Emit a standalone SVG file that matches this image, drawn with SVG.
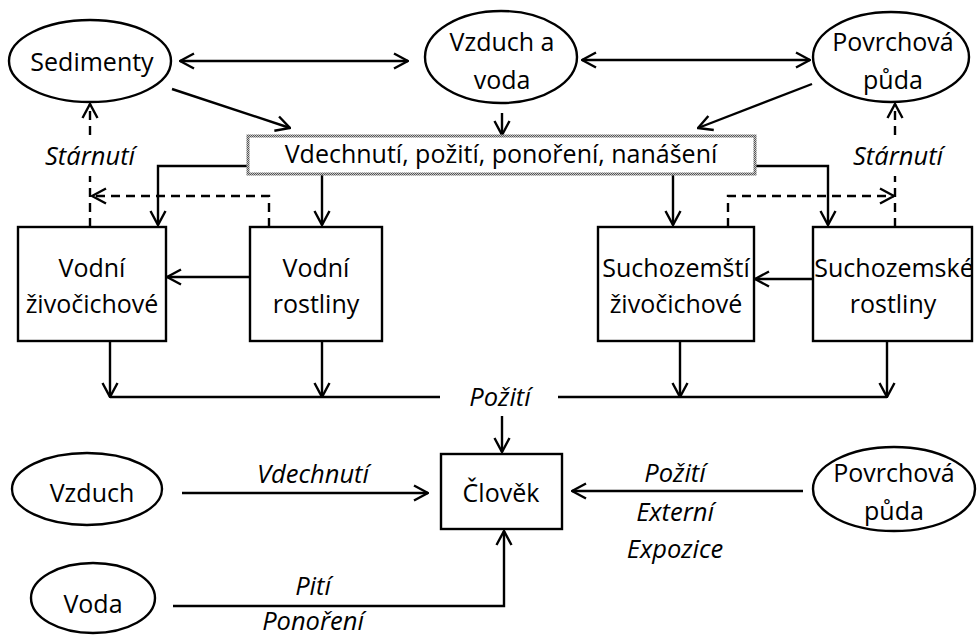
<svg xmlns="http://www.w3.org/2000/svg" width="977" height="637" viewBox="0 0 977 637">
  <defs>
    <marker id="arr" viewBox="0 0 16 18" refX="15" refY="9" markerWidth="16" markerHeight="18" markerUnits="userSpaceOnUse" orient="auto-start-reverse">
      <path d="M1,1.5 L15,9 L1,16.5" fill="none" stroke="#000" stroke-width="2.4"/>
    </marker>
    <pattern id="hatch" width="2" height="2" patternUnits="userSpaceOnUse">
      <rect width="2" height="2" fill="#c8c8c8"/>
      <rect width="1" height="1" fill="#555"/>
      <rect x="1" y="1" width="1" height="1" fill="#555"/>
    </pattern>
    <style>
      .n { fill: #fff; stroke: #000; stroke-width: 2.4; }
      .t { font-family: "Open Sans", "Liberation Sans", sans-serif; font-size: 25px; fill: #000; text-anchor: middle; }
      .i { font-style: italic; font-size: 25.5px; }
      .c { fill: none; stroke: #000; stroke-width: 2.4; }
      .d { stroke-dasharray: 9 6; }
    </style>
  </defs>

  <!-- connectors -->
  <g id="connectors">
    <line class="c" x1="180" y1="61" x2="408" y2="61" marker-start="url(#arr)" marker-end="url(#arr)"/>
    <line class="c" x1="582" y1="60" x2="810" y2="60" marker-start="url(#arr)" marker-end="url(#arr)"/>
    <line class="c" x1="172" y1="89" x2="290" y2="128" marker-end="url(#arr)"/>
    <line class="c" x1="502" y1="113" x2="502" y2="135" marker-end="url(#arr)"/>
    <line class="c" x1="812" y1="84" x2="698" y2="128" marker-end="url(#arr)"/>

    <polyline class="c" points="248,166 158,166 158,225" marker-end="url(#arr)"/>
    <line class="c" x1="322" y1="174" x2="322" y2="225" marker-end="url(#arr)"/>
    <line class="c" x1="673" y1="174" x2="673" y2="225" marker-end="url(#arr)"/>
    <polyline class="c" points="755,166 828,166 828,225" marker-end="url(#arr)"/>

    <polyline class="c d" points="269,227 269,196 92,196" marker-end="url(#arr)"/>
    <line class="c d" x1="90" y1="227" x2="90" y2="176"/>
    <line class="c d" x1="90" y1="135" x2="90" y2="104" marker-end="url(#arr)"/>
    <polyline class="c d" points="728,227 728,196 894,196" marker-end="url(#arr)"/>
    <line class="c d" x1="895" y1="227" x2="895" y2="176"/>
    <line class="c d" x1="895" y1="135" x2="895" y2="104" marker-end="url(#arr)"/>

    <line class="c" x1="250" y1="277" x2="167" y2="277" marker-end="url(#arr)"/>
    <line class="c" x1="813" y1="279" x2="755" y2="279" marker-end="url(#arr)"/>

    <line class="c" x1="110" y1="341" x2="110" y2="397" marker-end="url(#arr)"/>
    <line class="c" x1="322" y1="341" x2="322" y2="397" marker-end="url(#arr)"/>
    <line class="c" x1="680" y1="341" x2="680" y2="397" marker-end="url(#arr)"/>
    <line class="c" x1="887" y1="341" x2="887" y2="397" marker-end="url(#arr)"/>
    <line class="c" x1="110" y1="397" x2="440" y2="397"/>
    <line class="c" x1="558" y1="397" x2="887" y2="397"/>
    <text class="t i" x="500" y="406">Požití</text>
    <line class="c" x1="502" y1="416" x2="502" y2="452" marker-end="url(#arr)"/>

    <line class="c" x1="182" y1="493" x2="428" y2="493" marker-end="url(#arr)"/>
    <text class="t i" x="313" y="483">Vdechnutí</text>
    <line class="c" x1="803" y1="491" x2="572" y2="491" marker-end="url(#arr)"/>
    <text class="t i" x="675" y="482">Požití</text>
    <text class="t i" x="675" y="521">Externí</text>
    <text class="t i" x="675" y="558">Expozice</text>
    <polyline class="c" points="173,606 504,606 504,531" marker-end="url(#arr)"/>
    <text class="t i" x="313" y="595">Pití</text>
    <text class="t i" x="313" y="630">Ponoření</text>

    <text class="t i" x="90" y="165">Stárnutí</text>
    <text class="t i" x="898" y="165">Stárnutí</text>
  </g>

  <!-- sources -->
  <g id="sedimenty">
    <ellipse class="n" cx="90" cy="61" rx="81" ry="41"/>
    <text class="t" x="92" y="71">Sedimenty</text>
  </g>
  <g id="vzduch-a-voda">
    <ellipse class="n" cx="501" cy="57" rx="76" ry="46"/>
    <text class="t" x="502" y="51">Vzduch a</text>
    <text class="t" x="502" y="89">voda</text>
  </g>
  <g id="povrchova-puda-top">
    <ellipse class="n" cx="891" cy="57" rx="78" ry="45"/>
    <text class="t" x="893" y="51">Povrchová</text>
    <text class="t" x="893" y="89">půda</text>
  </g>

  <!-- exposure routes -->
  <g id="expozice">
    <rect x="248" y="136" width="507" height="38" fill="#fff" stroke="url(#hatch)" stroke-width="3"/>
    <text class="t" x="501" y="163">Vdechnutí, požití, ponoření, nanášení</text>
  </g>

  <!-- biota -->
  <g id="vodni-zivocichove">
    <rect class="n" x="18" y="227" width="148" height="114"/>
    <text class="t" x="92" y="277">Vodní</text>
    <text class="t" x="92" y="313">živočichové</text>
  </g>
  <g id="vodni-rostliny">
    <rect class="n" x="250" y="227" width="132" height="114"/>
    <text class="t" x="316" y="277">Vodní</text>
    <text class="t" x="316" y="313">rostliny</text>
  </g>
  <g id="suchozemsti-zivocichove">
    <rect class="n" x="598" y="227" width="156" height="114"/>
    <text class="t" x="676" y="277">Suchozemští</text>
    <text class="t" x="676" y="313">živočichové</text>
  </g>
  <g id="suchozemske-rostliny">
    <rect class="n" x="813" y="227" width="159" height="114"/>
    <text class="t" x="894" y="277">Suchozemské</text>
    <text class="t" x="893" y="313">rostliny</text>
  </g>

  <!-- receptor -->
  <g id="clovek">
    <rect class="n" x="441" y="454" width="121" height="75"/>
    <text class="t" x="501" y="502">Člověk</text>
  </g>

  <!-- direct sources -->
  <g id="vzduch">
    <ellipse class="n" cx="87" cy="489" rx="75" ry="36"/>
    <text class="t" x="92" y="502">Vzduch</text>
  </g>
  <g id="voda">
    <ellipse class="n" cx="93" cy="598" rx="62" ry="35"/>
    <text class="t" x="93" y="613">Voda</text>
  </g>
  <g id="povrchova-puda">
    <ellipse class="n" cx="894" cy="489" rx="81" ry="42"/>
    <text class="t" x="894" y="482">Povrchová</text>
    <text class="t" x="894" y="520">půda</text>
  </g>
</svg>
